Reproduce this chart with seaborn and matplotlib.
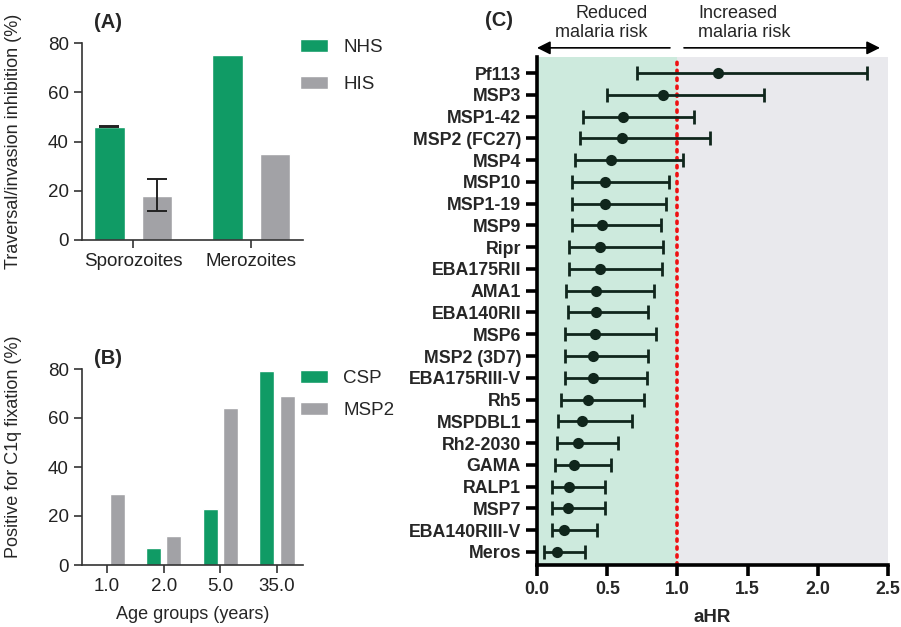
import numpy as np
import pandas as pd
import matplotlib
matplotlib.use("Agg")
import matplotlib.pyplot as plt
import seaborn as sns
from matplotlib.transforms import blended_transform_factory

# panel A: traversal / invasion inhibition
stages = ["Sporozoites", "Sporozoites", "Merozoites", "Merozoites"]
sera = ["NHS", "HIS", "NHS", "HIS"]
inhibition = [46, 18, 75, 35]
inhib_low = [45.8, 11.8, np.nan, np.nan]
inhib_high = [46.3, 24.6, np.nan, np.nan]

# panel B: C1q fixation by age group
age_groups = ["1.0", "2.0", "5.0", "35.0"]
csp_pos = [0, 7, 23, 79]
msp2_pos = [29, 12, 64, 69]

# panel C: adjusted hazard ratios
antigens = ["Pf113", "MSP3", "MSP1-42", "MSP2 (FC27)", "MSP4", "MSP10", "MSP1-19",
            "MSP9", "Ripr", "EBA175RII", "AMA1", "EBA140RII", "MSP6", "MSP2 (3D7)",
            "EBA175RIII-V", "Rh5", "MSPDBL1", "Rh2-2030", "GAMA", "RALP1", "MSP7",
            "EBA140RIII-V", "Meros"]
ahr = [1.29, 0.895, 0.615, 0.603, 0.53, 0.485, 0.485, 0.46, 0.45, 0.45, 0.42, 0.42,
       0.41, 0.40, 0.40, 0.36, 0.32, 0.29, 0.26, 0.23, 0.22, 0.19, 0.14]
ci_low = [0.71, 0.50, 0.33, 0.306, 0.27, 0.25, 0.25, 0.25, 0.23, 0.23, 0.21, 0.22,
          0.20, 0.20, 0.20, 0.17, 0.15, 0.14, 0.13, 0.11, 0.105, 0.105, 0.05]
ci_high = [2.35, 1.62, 1.12, 1.23, 1.04, 0.94, 0.92, 0.88, 0.90, 0.89, 0.83, 0.79,
           0.85, 0.79, 0.78, 0.76, 0.68, 0.58, 0.525, 0.485, 0.485, 0.425, 0.345]

GREEN = "#109b65"
GREY = "#a2a2a6"
DARK = "#10261c"

sns.set_style("ticks")
plt.rcParams["font.family"] = ["Liberation Sans", "DejaVu Sans"]

W, H = 901, 627
fig = plt.figure(figsize=(W / 100, H / 100), dpi=100)


def px_axes(left, top, right, bottom):
    return fig.add_axes([left / W, 1 - bottom / H, (right - left) / W, (bottom - top) / H])


def style_ab(ax):
    sns.despine(ax=ax)
    for s in ["left", "bottom"]:
        ax.spines[s].set_linewidth(1.2)
        ax.spines[s].set_color("#333333")
    ax.tick_params(axis="both", labelsize=13.5, length=6, width=1.2, color="#333333",
                   labelcolor="#222222")


# ---- (A)
axa = px_axes(82, 43, 303, 240)
dfa = pd.DataFrame({"stage": stages, "serum": sera, "value": inhibition})
sns.barplot(data=dfa, x="stage", y="value", hue="serum", palette=[GREEN, GREY],
            width=0.8, gap=0.36, errorbar=None, ax=axa, saturation=1)
for cont, idx in zip(axa.containers, [[0, 2], [1, 3]]):
    for bar, i in zip(cont, idx):
        if np.isnan(inhib_low[i]):
            continue
        xc = bar.get_x() + bar.get_width() / 2
        axa.errorbar(xc, inhibition[i],
                     yerr=[[inhibition[i] - inhib_low[i]], [inhib_high[i] - inhibition[i]]],
                     color="#222222", lw=1.4, capsize=7, capthick=1.4)
axa.set_ylim(0, 80)
axa.set_yticks([0, 20, 40, 60, 80])
axa.set_xlim(-0.432, 1.44)
axa.set_xlabel("")
axa.set_ylabel("Traversal/invasion inhibition (%)", fontsize=13)
axa.yaxis.set_label_coords(-(82 - 22) / 221, 0.5)
style_ab(axa)
axa.legend(frameon=False, loc="upper left", bbox_to_anchor=(300 / W, 1 - 39 / H),
           bbox_transform=fig.transFigure, fontsize=13.5, handlelength=1.5,
           handleheight=0.7, handletextpad=0.8, labelspacing=1.05, borderaxespad=0,
           borderpad=0)

# ---- (B)
axb = px_axes(82, 369, 303, 565)
dfb = pd.DataFrame({"age": age_groups * 2,
                    "antigen": ["CSP"] * 4 + ["MSP2"] * 4,
                    "value": csp_pos + msp2_pos})
sns.barplot(data=dfb, x="age", y="value", hue="antigen", palette=[GREEN, GREY],
            width=0.72, gap=0.27, errorbar=None, ax=axb, saturation=1)
axb.set_ylim(0, 80)
axb.set_yticks([0, 20, 40, 60, 80])
axb.set_xlim(-0.44, 3.456)
axb.set_xlabel("Age groups (years)", fontsize=13, labelpad=8)
axb.set_ylabel("Positive for C1q fixation (%)", fontsize=13)
axb.yaxis.set_label_coords(-(82 - 22) / 221, (565 - 447) / 196)
style_ab(axb)
axb.legend(frameon=False, loc="upper left", bbox_to_anchor=(300 / W, 1 - 370 / H),
           bbox_transform=fig.transFigure, fontsize=13.5, handlelength=1.5,
           handleheight=0.7, handletextpad=0.8, labelspacing=0.8, borderaxespad=0,
           borderpad=0)

# ---- (C)
axc = px_axes(537, 57, 888, 565)
axc.axvspan(0, 1, color="#cdeadd", zorder=0, lw=0)
axc.axvspan(1, 2.5, color="#e9e9ed", zorder=0, lw=0)
axc.axvline(1, color="#ee1111", lw=2.6, ls=(0, (0.6, 1.6)), dash_capstyle="round", zorder=1)
xerr = [np.array(ahr) - np.array(ci_low), np.array(ci_high) - np.array(ahr)]
sns.pointplot(x=ahr, y=antigens, linestyle="none", errorbar=None, color=DARK,
              markers="o", markersize=6, ax=axc, zorder=4)
axc.errorbar(ahr, list(range(len(antigens))), xerr=xerr, fmt="none", ecolor=DARK,
             elinewidth=2, capsize=5, capthick=2, zorder=3)
axc.set_xlim(0, 2.5)
axc.set_ylim(len(antigens) - 1 + 0.6, -0.735)
axc.set_xticks([0, 0.5, 1.0, 1.5, 2.0, 2.5])
axc.set_xticklabels(["0.0", "0.5", "1.0", "1.5", "2.0", "2.5"])
axc.set_xlabel("aHR", fontsize=13.5, fontweight="bold", labelpad=8)
axc.set_ylabel("")
sns.despine(ax=axc)
for s in ["left", "bottom"]:
    axc.spines[s].set_linewidth(2.6)
    axc.spines[s].set_color("black")
axc.tick_params(axis="both", labelsize=12.8, length=8, width=2.6, color="black")
for lab in axc.get_xticklabels() + axc.get_yticklabels():
    lab.set_fontweight("bold")

trans = blended_transform_factory(axc.transData, axc.transAxes)
arrow = dict(arrowstyle="-|>", color="black", lw=1.2, mutation_scale=20, shrinkA=0, shrinkB=0)
axc.annotate("", xy=(0.0, 1.018), xytext=(0.947, 1.018), xycoords=trans,
             textcoords=trans, arrowprops=arrow, annotation_clip=False)
axc.annotate("", xy=(2.443, 1.018), xytext=(1.047, 1.018), xycoords=trans,
             textcoords=trans, arrowprops=arrow, annotation_clip=False)
axc.text(0.79, 1.067, "Reduced\nmalaria risk", transform=trans, ha="right",
         va="center", fontsize=13, multialignment="right", linespacing=1.1)
axc.text(1.15, 1.067, "Increased\nmalaria risk", transform=trans, ha="left",
         va="center", fontsize=13, linespacing=1.1)

fig.text(108 / W, 1 - 22 / H, "(A)", fontsize=14.5, fontweight="bold", ha="center", va="center")
fig.text(108 / W, 1 - 358 / H, "(B)", fontsize=14.5, fontweight="bold", ha="center", va="center")
fig.text(499 / W, 1 - 20 / H, "(C)", fontsize=14.5, fontweight="bold", ha="center", va="center")

fig.savefig("out.png", dpi=100)
